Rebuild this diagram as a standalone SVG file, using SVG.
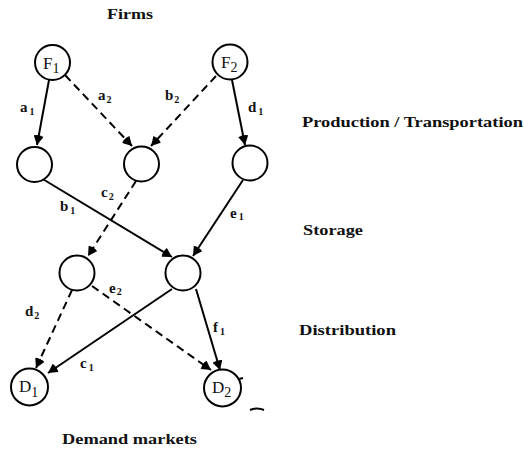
<svg xmlns="http://www.w3.org/2000/svg" width="524" height="450" viewBox="0 0 524 450">
  <style>
    .node { fill: #fff; stroke: #000; stroke-width: 2; }
    .edge { fill: none; stroke: #000; stroke-width: 2; marker-end: url(#head); }
    .dash { stroke-dasharray: 8 5; }
    .head { font-family: "Liberation Serif", serif; font-weight: bold; font-size: 15px; fill: #111; }
    .lab { font-family: "Liberation Serif", serif; font-weight: bold; font-size: 15px; fill: #111; }
    .sub { font-size: 10px; }
    .nl { font-family: "Liberation Serif", serif; font-size: 17px; fill: #111; }
    .nsub { font-size: 14px; }
  </style>
  <defs>
    <marker id="head" viewBox="0 0 10 10" refX="10" refY="5" markerWidth="10" markerHeight="10" markerUnits="userSpaceOnUse" orient="auto">
      <path d="M10,5 L1,0 Q-1,5 1,10 Z" fill="#000"/>
    </marker>
  </defs>

  <!-- level captions -->
  <g id="captions">
    <text class="head" x="107" y="19" textLength="46" lengthAdjust="spacingAndGlyphs">Firms</text>
    <text class="head" x="302" y="127" textLength="221" lengthAdjust="spacingAndGlyphs">Production / Transportation</text>
    <text class="head" x="303" y="235" textLength="60" lengthAdjust="spacingAndGlyphs">Storage</text>
    <text class="head" x="299" y="335" textLength="97" lengthAdjust="spacingAndGlyphs">Distribution</text>
    <text class="head" x="62" y="444" font-size="16" textLength="135" lengthAdjust="spacingAndGlyphs">Demand markets</text>
  </g>

  <!-- links between levels -->
  <g id="connectors">
    <line class="edge" x1="49" y1="80" x2="37" y2="145"/>
    <line class="edge dash" x1="65" y1="75" x2="132" y2="146"/>
    <line class="edge dash" x1="216" y1="76" x2="151" y2="146"/>
    <line class="edge" x1="232" y1="80" x2="245" y2="145"/>
    <line class="edge" x1="41" y1="178" x2="172" y2="257"/>
    <line class="edge dash" x1="136" y1="181" x2="88" y2="256"/>
    <line class="edge" x1="243" y1="180" x2="193" y2="256"/>
    <line class="edge dash" x1="72" y1="290" x2="36" y2="368"/>
    <line class="edge dash" x1="92" y1="286" x2="211" y2="370"/>
    <line class="edge" x1="172" y1="289" x2="48" y2="373"/>
    <line class="edge" x1="196" y1="289" x2="220" y2="370"/>
    <!-- edge labels -->
    <text class="lab" x="20" y="112">a<tspan class="sub" dx="2" dy="3">1</tspan></text>
    <text class="lab" x="98" y="100">a<tspan class="sub" dx="1" dy="3">2</tspan></text>
    <text class="lab" x="165" y="100">b<tspan class="sub" dx="1" dy="3">2</tspan></text>
    <text class="lab" x="248" y="112">d<tspan class="sub" dx="2" dy="3">1</tspan></text>
    <text class="lab" x="101" y="197">c<tspan class="sub" dx="1" dy="3">2</tspan></text>
    <text class="lab" x="60" y="211">b<tspan class="sub" dx="2" dy="3">1</tspan></text>
    <text class="lab" x="230" y="218">e<tspan class="sub" dx="2" dy="2">1</tspan></text>
    <text class="lab" x="109" y="293">e<tspan class="sub" dx="1" dy="2">2</tspan></text>
    <text class="lab" x="25" y="316">d<tspan class="sub" dx="1" dy="3">2</tspan></text>
    <text class="lab" x="213" y="332">f<tspan class="sub" dx="2" dy="3">1</tspan></text>
    <text class="lab" x="80" y="368">c<tspan class="sub" dx="2" dy="3">1</tspan></text>
  </g>

  <g id="F1">
    <circle class="node" cx="52.5" cy="62.5" r="17.5"/>
    <text class="nl" x="43" y="69">F<tspan class="nsub" dy="4">1</tspan></text>
  </g>
  <g id="F2">
    <circle class="node" cx="230" cy="62" r="17.5"/>
    <text class="nl" x="221" y="68">F<tspan class="nsub" dy="4">2</tspan></text>
  </g>
  <g id="P1"><circle class="node" cx="34.5" cy="164.5" r="17.5"/></g>
  <g id="P2"><circle class="node" cx="141.5" cy="164" r="17.5"/></g>
  <g id="P3"><circle class="node" cx="250" cy="163" r="17.5"/></g>
  <g id="S1"><circle class="node" cx="77" cy="273" r="17.5"/></g>
  <g id="S2"><circle class="node" cx="183" cy="273" r="17.5"/></g>
  <g id="D1">
    <circle class="node" cx="29.5" cy="387" r="18.5"/>
    <text class="nl" x="19" y="392">D<tspan class="nsub" dy="5">1</tspan></text>
  </g>
  <g id="D2">
    <circle class="node" cx="222.5" cy="388" r="18.5"/>
    <text class="nl" x="212" y="393">D<tspan class="nsub" dy="4">2</tspan></text>
    <line x1="239" y1="379" x2="243" y2="378" stroke="#000" stroke-width="2"/>
  </g>
  <path d="M250,410 Q257,407 264,410" fill="none" stroke="#000" stroke-width="2"/>
</svg>
